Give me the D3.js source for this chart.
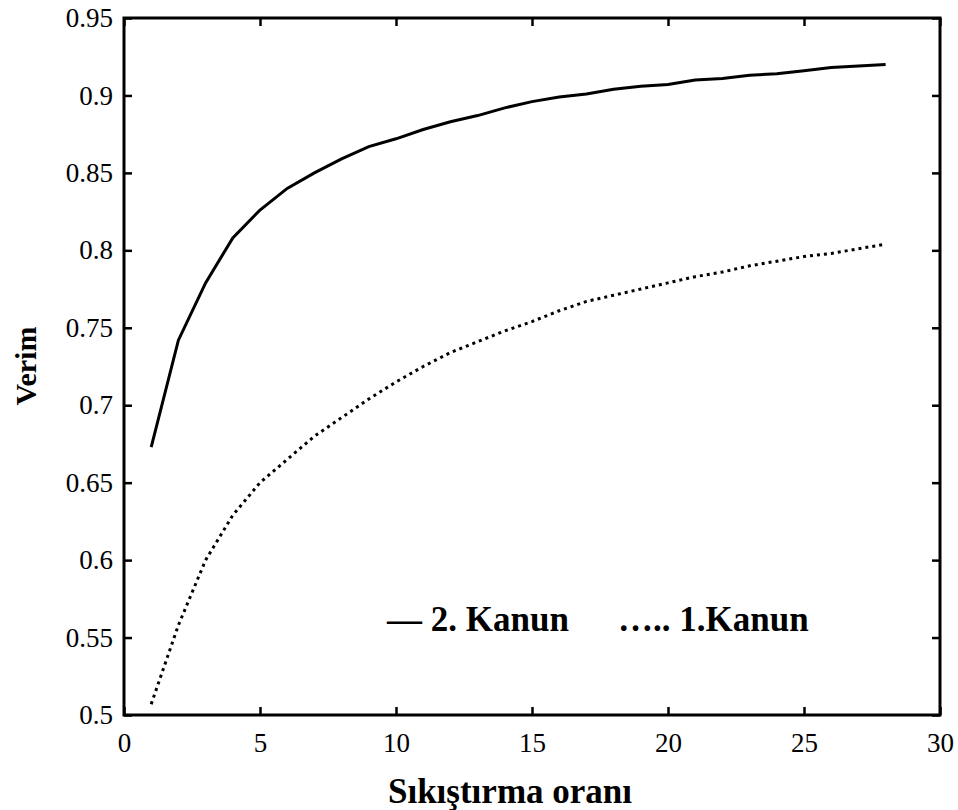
<!DOCTYPE html>
<html>
<head>
<meta charset="utf-8">
<script src="https://cdn.jsdelivr.net/npm/d3@7/dist/d3.min.js"></script>
<style>
    body { margin: 0; background: #fff; }
</style>
</head>
<body>
<div id="chart"></div>
<script>
// compression ratio (x) and efficiency (y)
let ratio = [1, 2, 3, 4, 5, 6, 7, 8, 9, 10, 11, 12, 13, 14, 15, 16, 17, 18, 19, 20, 21, 22, 23, 24, 25, 26, 27, 28];
let law2 = [0.673, 0.742, 0.779, 0.808, 0.826, 0.840, 0.850, 0.859, 0.867, 0.872, 0.878, 0.883, 0.887, 0.892,
    0.896, 0.899, 0.901, 0.904, 0.906, 0.907, 0.910, 0.911, 0.913, 0.914, 0.916, 0.918, 0.919, 0.920];
let law1 = [0.507, 0.558, 0.600, 0.629, 0.650, 0.665, 0.680, 0.692, 0.704, 0.715, 0.725, 0.734, 0.741, 0.748,
    0.754, 0.761, 0.767, 0.771, 0.775, 0.779, 0.783, 0.786, 0.790, 0.793, 0.796, 0.798, 0.801, 0.804];

let xTicks = [0, 5, 10, 15, 20, 25, 30];
let xTickLabels = ["0", "5", "10", "15", "20", "25", "30"];
let yTicks = [0.5, 0.55, 0.6, 0.65, 0.7, 0.75, 0.8, 0.85, 0.9, 0.95];
let yTickLabels = ["0.5", "0.55", "0.6", "0.65", "0.7", "0.75", "0.8", "0.85", "0.9", "0.95"];

let legendLabels = ["\u2014 2. Kanun", "\u2026.. 1.Kanun"];

let width = 958;
let height = 810;
let plot = { left: 124, right: 940, top: 18, bottom: 715 }; //px
let serif = "'Liberation Serif', 'Times New Roman', serif";

let svg = d3.select("#chart")
    .append("svg")
    .attr("width", width)
    .attr("height", height)
    .style("font-family", serif);

svg.append("rect")
    .attr("width", "100%")
    .attr("height", "100%")
    .attr("fill", "#fff");

let x = d3.scaleLinear()
    .domain([0, 30])
    .range([plot.left, plot.right]);

let y = d3.scaleLinear()
    .domain([0.5, 0.95])
    .range([plot.bottom, plot.top]);

let tickLen = 8;

function styleAxis(g) {
    g.select(".domain").remove();
    g.selectAll(".tick line").attr("stroke", "#000").attr("stroke-width", 2.5);
    g.selectAll(".tick text")
        .attr("fill", "#000")
        .style("font-family", serif)
        .style("font-size", "27px");
}

/*---------------
 // axes, ticks point inward on all four sides
 ----------------*/
svg.append("g")
    .attr("transform", "translate(0," + plot.bottom + ")")
    .call(d3.axisBottom(x).tickValues(xTicks).tickFormat((d, i) => xTickLabels[i]).tickSize(-tickLen).tickPadding(18))
    .call(styleAxis);

svg.append("g")
    .attr("transform", "translate(0," + plot.top + ")")
    .call(d3.axisTop(x).tickValues(xTicks).tickFormat("").tickSize(-tickLen))
    .call(styleAxis);

svg.append("g")
    .attr("transform", "translate(" + plot.left + ",0)")
    .call(d3.axisLeft(y).tickValues(yTicks).tickFormat((d, i) => yTickLabels[i]).tickSize(-tickLen).tickPadding(11))
    .call(styleAxis);

svg.append("g")
    .attr("transform", "translate(" + plot.right + ",0)")
    .call(d3.axisRight(y).tickValues(yTicks).tickFormat("").tickSize(-tickLen))
    .call(styleAxis);

svg.append("rect")
    .attr("x", plot.left)
    .attr("y", plot.top)
    .attr("width", plot.right - plot.left)
    .attr("height", plot.bottom - plot.top)
    .attr("fill", "none")
    .attr("stroke", "#000")
    .attr("stroke-width", 3);

/*---------------
 // curves
 ----------------*/
let line = d3.line()
    .x((d, i) => x(ratio[i]))
    .y(d => y(d));

svg.append("path")
    .datum(law2)
    .attr("d", line)
    .attr("fill", "none")
    .attr("stroke", "#000")
    .attr("stroke-width", 3);

svg.append("path")
    .datum(law1)
    .attr("d", line)
    .attr("fill", "none")
    .attr("stroke", "#000")
    .attr("stroke-width", 3)
    .attr("stroke-dasharray", "3,4");

/*---------------
 // labels
 ----------------*/
svg.append("text")
    .attr("x", 510)
    .attr("y", 803)
    .style("text-anchor", "middle")
    .style("font-size", "35px")
    .style("font-weight", "bold")
    .text("S\u0131k\u0131\u015ft\u0131rma oran\u0131");

svg.append("text")
    .attr("transform", "translate(36,366) rotate(-90)")
    .style("text-anchor", "middle")
    .style("font-size", "30px")
    .style("font-weight", "bold")
    .text("Verim");

svg.append("text")
    .attr("x", 387)
    .attr("y", 631)
    .style("font-size", "35px")
    .style("font-weight", "bold")
    .text(legendLabels[0]);

svg.append("text")
    .attr("x", 618)
    .attr("y", 631)
    .style("font-size", "35px")
    .style("font-weight", "bold")
    .text(legendLabels[1]);
</script>
</body>
</html>
